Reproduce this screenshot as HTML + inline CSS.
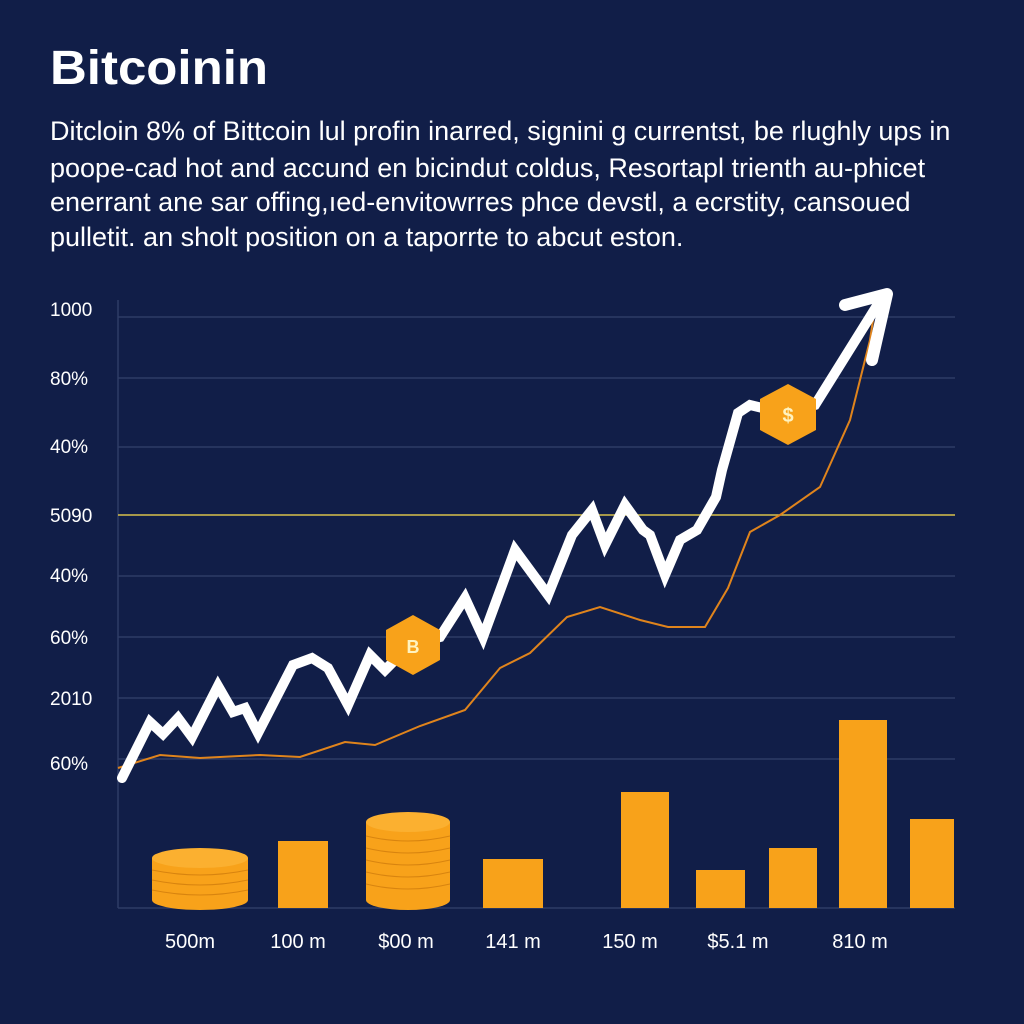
<!DOCTYPE html><html><head><style>body{margin:0;background:#12204a;}svg{display:block}</style></head><body>
<svg width="1024" height="1024" viewBox="0 0 1024 1024" xmlns="http://www.w3.org/2000/svg" font-family="Liberation Sans, sans-serif">
<rect width="1024" height="1024" fill="#111e48"/>
<text x="50" y="84" font-size="48" font-weight="bold" fill="#fff" textLength="218" lengthAdjust="spacingAndGlyphs">Bitcoinin</text>
<g font-size="27" fill="#fff">
<text x="50" y="140">Ditcloin 8% of Bittcoin lul profin inarred, signini g currentst, be rlughly ups in</text>
<text x="50" y="177">poope-cad hot and accund en bicindut coldus, Resortapl trienth au-phicet</text>
<text x="50" y="211">enerrant ane sar offing,ıed-envitowrres phce devstl, a ecrstity, cansoued</text>
<text x="50" y="246">pulletit. an sholt position on a taporrte to abcut eston.</text>
</g>
<g stroke="#2e3c66" stroke-width="1.5">
<line x1="118" y1="317" x2="955" y2="317"/><line x1="118" y1="378" x2="955" y2="378"/>
<line x1="118" y1="447" x2="955" y2="447"/><line x1="118" y1="576" x2="955" y2="576"/>
<line x1="118" y1="637" x2="955" y2="637"/><line x1="118" y1="698" x2="955" y2="698"/>
<line x1="118" y1="759" x2="955" y2="759"/>
<line x1="118" y1="300" x2="118" y2="908"/><line x1="118" y1="908" x2="955" y2="908"/>
</g>
<line x1="118" y1="515" x2="955" y2="515" stroke="#d8c04a" stroke-width="1.5"/>
<g font-size="19" fill="#fff">
<text x="50" y="316">1000</text><text x="50" y="385">80%</text><text x="50" y="453">40%</text>
<text x="50" y="522">5090</text><text x="50" y="582">40%</text><text x="50" y="644">60%</text>
<text x="50" y="705">2010</text><text x="50" y="770">60%</text>
</g>
<g font-size="20" fill="#fff" text-anchor="middle">
<text x="190" y="948">500m</text><text x="298" y="948">100 m</text><text x="406" y="948">$00 m</text>
<text x="513" y="948">141 m</text><text x="630" y="948">150 m</text><text x="738" y="948">$5.1 m</text><text x="860" y="948">810 m</text>
</g>
<g fill="#f8a21a">
<rect x="278" y="841" width="50" height="67"/><rect x="483" y="859" width="60" height="49"/>
<rect x="621" y="792" width="48" height="116"/><rect x="696" y="870" width="49" height="38"/>
<rect x="769" y="848" width="48" height="60"/><rect x="839" y="720" width="48" height="188"/>
<rect x="910" y="819" width="44" height="89"/>
<rect x="152" y="858" width="96" height="42"/><ellipse cx="200" cy="900" rx="48" ry="10"/>
<ellipse cx="200" cy="858" rx="48" ry="10" fill="#fbb030"/>
<rect x="366" y="822" width="84" height="78"/><ellipse cx="408" cy="900" rx="42" ry="10"/>
<ellipse cx="408" cy="822" rx="42" ry="10" fill="#fbb030"/>
</g>
<g stroke="#d8840f" stroke-width="1" fill="none">
<path d="M152 870 q48 10 96 0 M152 880 q48 10 96 0 M152 890 q48 10 96 0"/>
<path d="M366 836 q42 10 84 0 M366 848 q42 10 84 0 M366 860 q42 10 84 0 M366 872 q42 10 84 0 M366 884 q42 10 84 0"/>
</g>
<polyline fill="none" stroke="#e0841c" stroke-width="2" points="118,768 160,755 200,758 260,755 300,757 345,742 375,745 420,726 465,710 500,668 530,653 567,617 600,607 640,620 668,627 705,627 728,588 750,532 780,515 820,487 850,420 870,340 873,320"/>
<polyline fill="none" stroke="#fff" stroke-width="10" stroke-linejoin="miter" stroke-linecap="round" points="122,778 150,722 163,734 178,718 192,737 218,686 233,712 245,708 258,733 293,665 312,658 328,668 348,705 370,655 385,670 410,645 440,637 465,598 483,637 515,550 548,595 572,535 592,510 605,545 625,505 643,530 650,535 665,575 680,540 697,530 716,497 722,470 738,413 750,405 788,414 815,405 878,304"/>
<polyline fill="none" stroke="#fff" stroke-width="12" stroke-linecap="round" stroke-linejoin="round" points="845,305 887,294 872,360"/>
<polygon points="413,615 440,630 440,660 413,675 386,660 386,630" fill="#f8a21a"/>
<text x="413" y="653" font-size="18" font-weight="bold" fill="#fff3c0" text-anchor="middle">B</text>
<polygon points="788,384 816,399 816,430 788,445 760,430 760,399" fill="#f8a21a"/>
<text x="788" y="422" font-size="20" font-weight="bold" fill="#fff3c0" text-anchor="middle">$</text>
</svg></body></html>
